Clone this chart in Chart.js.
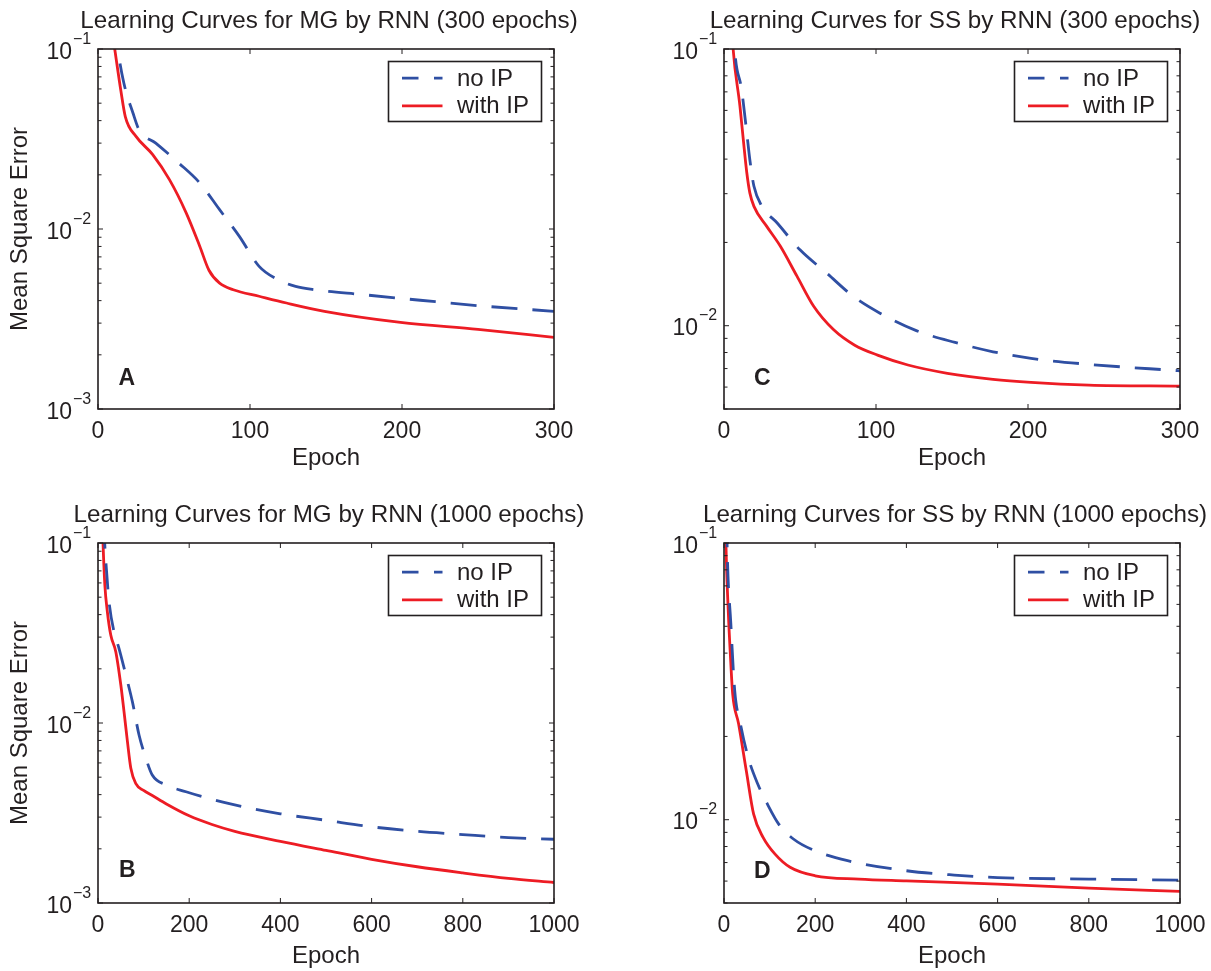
<!DOCTYPE html>
<html>
<head>
<meta charset="utf-8">
<title>Learning Curves by RNN</title>
<script src="https://cdn.jsdelivr.net/npm/chart.js@4.4.1/dist/chart.umd.min.js"></script>
<style>
  body { margin: 0; background: #fff; }
  #wrap { position: relative; width: 1211px; height: 971px; background: #fff; }
  #wrap canvas { position: absolute; }
</style>
</head>
<body>
<div id="wrap">
  <canvas id="mg300" width="605" height="485" style="left:0;top:0"></canvas>
  <canvas id="ss300" width="605" height="485" style="left:606px;top:0"></canvas>
  <canvas id="mg1000" width="605" height="485" style="left:0;top:486px"></canvas>
  <canvas id="ss1000" width="605" height="485" style="left:606px;top:486px"></canvas>
</div>
<script>
// MG, 300 epochs
const mg300NoIpEpoch = [11, 13, 17, 23, 27, 38, 53, 67, 80, 93, 106, 119, 130, 142, 174, 212, 250, 300];
const mg300NoIpMse = [0.14, 0.1, 0.0647, 0.0441, 0.0356, 0.030, 0.0233, 0.018, 0.0128, 0.0091, 0.0062, 0.0052, 0.0048, 0.0046, 0.00432, 0.00402, 0.00375, 0.00349];
const mg300WithIpEpoch = [9, 11, 15, 18, 25, 36, 47, 58, 67, 73, 80, 89, 106, 124, 149, 199, 250, 300];
const mg300WithIpMse = [0.13, 0.1, 0.059, 0.042, 0.0327, 0.0259, 0.0188, 0.0123, 0.0080, 0.0059, 0.0050, 0.0046, 0.00423, 0.00388, 0.00349, 0.00303, 0.00277, 0.0025];

// SS, 300 epochs
const ss300NoIpEpoch = [6, 7, 11.6, 15, 17, 19.7, 25, 35, 50, 67.5, 85, 102.6, 126.5, 152, 177, 202, 240, 300];
const ss300NoIpMse = [0.13, 0.1, 0.0713, 0.0497, 0.0398, 0.0319, 0.027, 0.0235, 0.0188, 0.0155, 0.01277, 0.0111, 0.0096, 0.0087, 0.00805, 0.00762, 0.00725, 0.00687];
const ss300WithIpEpoch = [5, 6, 10.5, 12.7, 15, 17, 19.7, 28, 37, 48, 59, 72, 86, 101, 121, 147, 177, 202, 240, 300];
const ss300WithIpMse = [0.125, 0.1, 0.0621, 0.047, 0.0357, 0.0302, 0.027, 0.0229, 0.0194, 0.0151, 0.01175, 0.00968, 0.0085, 0.00783, 0.00721, 0.00673, 0.0064, 0.00624, 0.0061, 0.00605];

// MG, 1000 epochs
const mg1000NoIpEpoch = [13, 14.7, 18.3, 24.2, 35, 46, 61, 75.5, 90, 105, 119, 149, 193, 233, 288, 400, 500, 600, 700, 800, 900, 1000];
const mg1000NoIpMse = [0.13, 0.1, 0.0723, 0.0472, 0.0322, 0.026, 0.0185, 0.0131, 0.00858, 0.00637, 0.00514, 0.00453, 0.00415, 0.00387, 0.00356, 0.00313, 0.00288, 0.00265, 0.0025, 0.0024, 0.00231, 0.00226];
const mg1000WithIpEpoch = [10, 11, 15, 20.5, 28, 39, 50, 57, 64.5, 72, 83, 100, 120, 150, 200, 250, 300, 400, 500, 600, 700, 800, 900, 1000];
const mg1000WithIpMse = [0.12, 0.1, 0.0585, 0.0415, 0.0308, 0.0249, 0.0163, 0.0116, 0.0079, 0.0056, 0.0046, 0.00422, 0.00394, 0.00355, 0.00305, 0.00273, 0.0025, 0.0022, 0.00196, 0.00175, 0.00159, 0.00147, 0.00137, 0.0013];

// SS, 1000 epochs
const ss1000NoIpEpoch = [6, 6.7, 15, 23.5, 36, 53, 74, 95, 120, 153, 200, 271, 400, 505, 600, 800, 1000];
const ss1000NoIpMse = [0.12, 0.1, 0.0511, 0.0293, 0.0222, 0.0168, 0.01346, 0.0114, 0.00964, 0.0085, 0.00772, 0.00711, 0.00654, 0.00631, 0.00618, 0.0061, 0.00605];
const ss1000WithIpEpoch = [3.5, 4.2, 9, 15, 19, 32, 49, 65, 86, 112, 145, 200, 296, 400, 600, 800, 1000];
const ss1000WithIpMse = [0.12, 0.1, 0.0586, 0.0366, 0.0285, 0.0222, 0.015, 0.01047, 0.00862, 0.00751, 0.00673, 0.00627, 0.0061, 0.00601, 0.00585, 0.00566, 0.00551];

const xTicks300 = [0, 100, 200, 300];
const xTicks1000 = [0, 200, 400, 600, 800, 1000];
const yDecades = [-1, -2, -3];
const seriesLabels = ['no IP', 'with IP'];

const FONT = '"Liberation Sans", Arial, Helvetica, sans-serif';
const INK = '#231f20';
const BLUE = '#2f4fa3';
const RED = '#ed1c24';

function pts(xs, ys) {
  return xs.map((x, i) => ({ x: x, y: ys[i] }));
}

// frame, inward ticks, 10^n labels, title, panel letter and boxed legend
const panelDecor = {
  id: 'panel',
  afterDraw(chart, args, opts) {
    const ctx = chart.ctx;
    const a = chart.chartArea;
    const xs = chart.scales.x;
    const ys = chart.scales.y;
    ctx.save();

    ctx.strokeStyle = INK;
    ctx.lineWidth = 1;
    ctx.beginPath();
    xs.ticks.forEach(t => {
      const px = xs.getPixelForValue(t.value);
      ctx.moveTo(px, a.bottom); ctx.lineTo(px, a.bottom - 5);
      ctx.moveTo(px, a.top); ctx.lineTo(px, a.top + 5);
    });
    yDecades.forEach(e => {
      for (let m = 1; m <= 9; m++) {
        const v = m * Math.pow(10, e);
        if (v < ys.min * 0.999 || v > ys.max * 1.001) continue;
        const py = ys.getPixelForValue(v);
        const len = m === 1 ? 5 : 3.5;
        ctx.moveTo(a.left, py); ctx.lineTo(a.left + len, py);
        ctx.moveTo(a.right, py); ctx.lineTo(a.right - len, py);
      }
    });
    ctx.stroke();

    ctx.lineWidth = 1.6;
    ctx.strokeRect(a.left, a.top, a.right - a.left, a.bottom - a.top);

    // y labels as 10 with a raised exponent
    ctx.fillStyle = INK;
    yDecades.forEach(e => {
      const v = Math.pow(10, e);
      if (v < ys.min * 0.999 || v > ys.max * 1.001) return;
      const py = ys.getPixelForValue(v);
      ctx.font = '23px ' + FONT;
      ctx.textAlign = 'right';
      ctx.textBaseline = 'alphabetic';
      ctx.fillText('10', a.left - 26, py + 9.5);
      ctx.font = '16px ' + FONT;
      ctx.textAlign = 'left';
      ctx.fillText('\u2212' + Math.abs(e), a.left - 25, py - 5.5);
    });

    ctx.font = '24.2px ' + FONT;
    ctx.textAlign = 'center';
    ctx.fillText(opts.title, (a.left + a.right) / 2 + 3, a.top - 21.5);

    ctx.font = 'bold 23px ' + FONT;
    ctx.textAlign = 'left';
    ctx.fillText(opts.letter, a.left + opts.letterDx, a.bottom - opts.letterDy);

    // legend box in the upper right corner
    const bw = 153, bh = 60;
    const bx = a.right - 12.5 - bw;
    const by = a.top + 12.5;
    ctx.fillStyle = '#fff';
    ctx.fillRect(bx, by, bw, bh);
    ctx.lineWidth = 1.6;
    ctx.strokeStyle = INK;
    ctx.strokeRect(bx, by, bw, bh);
    chart.data.datasets.forEach((ds, i) => {
      const ly = by + 16.6 + i * 27.7;
      ctx.beginPath();
      ctx.setLineDash(ds.borderDash ? [16.5, 15.5] : []);
      ctx.strokeStyle = ds.borderColor;
      ctx.lineWidth = ds.borderWidth;
      ctx.moveTo(bx + 13.5, ly);
      ctx.lineTo(bx + 54, ly);
      ctx.stroke();
      ctx.setLineDash([]);
      ctx.fillStyle = INK;
      ctx.font = '24px ' + FONT;
      ctx.textAlign = 'left';
      ctx.textBaseline = 'middle';
      ctx.fillText(ds.label, bx + 68.5, ly + 1);
    });
    ctx.restore();
  }
};

function makePanel(id, cfg) {
  const datasets = [
    {
      label: seriesLabels[0],
      data: pts(cfg.noIpEpoch, cfg.noIpMse),
      borderColor: BLUE,
      borderDash: [26, 15],
      borderWidth: 2.8,
      pointRadius: 0,
      fill: false,
      clip: 0,
      cubicInterpolationMode: 'monotone'
    },
    {
      label: seriesLabels[1],
      data: pts(cfg.withIpEpoch, cfg.withIpMse),
      borderColor: RED,
      borderWidth: 2.8,
      pointRadius: 0,
      fill: false,
      clip: 0,
      cubicInterpolationMode: 'monotone'
    }
  ];

  return new Chart(document.getElementById(id), {
    type: 'line',
    data: { datasets: datasets },
    plugins: [panelDecor],
    options: {
      responsive: false,
      animation: false,
      devicePixelRatio: 1,
      events: [],
      layout: { padding: { left: 0, top: cfg.padTop, right: cfg.padRight, bottom: 0 } },
      plugins: {
        legend: { display: false },
        tooltip: { enabled: false },
        panel: { title: cfg.title, letter: cfg.letter, letterDx: cfg.letterDx, letterDy: cfg.letterDy }
      },
      scales: {
        x: {
          type: 'linear',
          min: 0,
          max: cfg.xTicks[cfg.xTicks.length - 1],
          afterBuildTicks: s => { s.ticks = cfg.xTicks.map(v => ({ value: v })); },
          afterFit: s => {
            s.height = cfg.xHeight;
            // end labels may hang past the plot edge; the layout padding already leaves room
            s.paddingLeft = 0;
            s.paddingRight = 0;
          },
          grid: { display: false, drawTicks: false },
          border: { display: false },
          ticks: {
            font: { family: FONT, size: 23 },
            color: INK,
            padding: 9,
            maxRotation: 0,
            autoSkip: false,
            callback: v => String(v)
          },
          title: {
            display: true,
            text: 'Epoch',
            font: { family: FONT, size: 24 },
            color: INK,
            padding: { top: 0, bottom: cfg.epochPad }
          }
        },
        y: {
          type: 'logarithmic',
          min: cfg.yMin,
          max: 0.1,
          afterFit: s => { s.width = cfg.yWidth; },
          grid: { display: false, drawTicks: false },
          border: { display: false },
          ticks: { display: false },
          title: {
            display: cfg.yTitle,
            text: 'Mean Square Error',
            font: { family: FONT, size: 24 },
            color: INK,
            padding: { top: 6, bottom: 0 }
          }
        }
      }
    }
  });
}

makePanel('mg300', {
  title: 'Learning Curves for MG by RNN (300 epochs)', letter: 'A', letterDx: 20.5, letterDy: 24.5,
  noIpEpoch: mg300NoIpEpoch, noIpMse: mg300NoIpMse, withIpEpoch: mg300WithIpEpoch, withIpMse: mg300WithIpMse,
  xTicks: xTicks300, yMin: 0.001, yTitle: true, yWidth: 98, padTop: 49, padRight: 51, xHeight: 76, epochPad: 12
});
makePanel('ss300', {
  title: 'Learning Curves for SS by RNN (300 epochs)', letter: 'C', letterDx: 30, letterDy: 24,
  noIpEpoch: ss300NoIpEpoch, noIpMse: ss300NoIpMse, withIpEpoch: ss300WithIpEpoch, withIpMse: ss300WithIpMse,
  xTicks: xTicks300, yMin: 0.005, yTitle: false, yWidth: 118, padTop: 49, padRight: 31, xHeight: 76, epochPad: 12
});
makePanel('mg1000', {
  title: 'Learning Curves for MG by RNN (1000 epochs)', letter: 'B', letterDx: 21, letterDy: 26,
  noIpEpoch: mg1000NoIpEpoch, noIpMse: mg1000NoIpMse, withIpEpoch: mg1000WithIpEpoch, withIpMse: mg1000WithIpMse,
  xTicks: xTicks1000, yMin: 0.001, yTitle: true, yWidth: 98, padTop: 57, padRight: 51, xHeight: 68, epochPad: 0
});
makePanel('ss1000', {
  title: 'Learning Curves for SS by RNN (1000 epochs)', letter: 'D', letterDx: 30, letterDy: 25,
  noIpEpoch: ss1000NoIpEpoch, noIpMse: ss1000NoIpMse, withIpEpoch: ss1000WithIpEpoch, withIpMse: ss1000WithIpMse,
  xTicks: xTicks1000, yMin: 0.005, yTitle: false, yWidth: 118, padTop: 57, padRight: 31, xHeight: 68, epochPad: 0
});
</script>
</body>
</html>
